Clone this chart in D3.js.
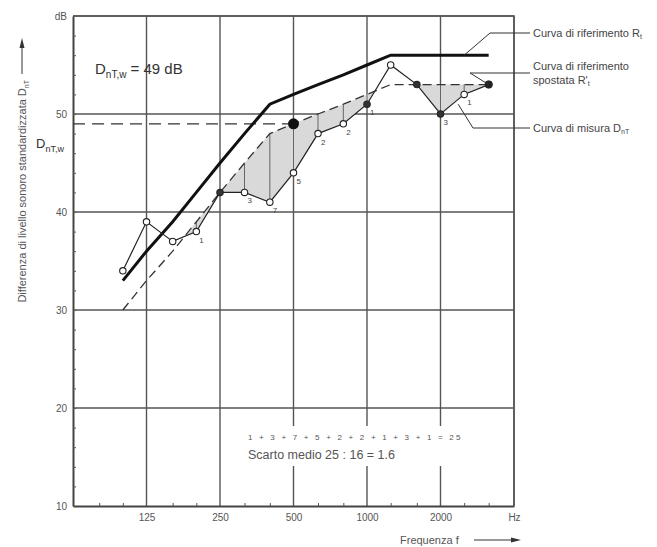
<!DOCTYPE html>
<html>
<head>
<meta charset="utf-8">
<script src="https://cdn.jsdelivr.net/npm/d3@7"></script>
<style>
  body { margin: 0; background: #fff; }
  svg { font-family: "Liberation Sans", Arial, sans-serif; }
</style>
</head>
<body>
<div id="chart"></div>
<script>
// third-octave bands and curves (dB)
var freqs = [100, 125, 160, 200, 250, 315, 400, 500, 630, 800, 1000, 1250, 1600, 2000, 2500, 3150];
var refCurve = [33, 36, 39, 42, 45, 48, 51, 52, 53, 54, 55, 56, 56, 56, 56, 56];
var shiftedCurve = [30, 33, 36, 39, 42, 45, 48, 49, 50, 51, 52, 53, 53, 53, 53, 53];
var measured = [34, 39, 37, 38, 42, 42, 41, 44, 48, 49, 51, 55, 53, 50, 52, 53];
var markedFreqs = [250, 1000, 1600, 2000];
var weighted = 49;

var yTicks = [10, 20, 30, 40, 50, 60];
var xTicks = [125, 250, 500, 1000, 2000, 4000];
var xMinor = [80, 100, 160, 200, 315, 400, 630, 800, 1250, 1600, 2500, 3150];

var W = 657, H = 547;
var svg = d3.select("#chart").append("svg")
    .attr("width", W)
    .attr("height", H)

var x = d3.scaleLog().domain([62.5, 4000]).range([73, 514])
var y = d3.scaleLinear().domain([10, 60]).range([506, 16])

var grid = svg.append("g").attr("stroke", "#555").attr("stroke-width", 1.4)

// horizontal grid
grid.selectAll(".hg").data(yTicks.slice(1))
    .enter().append("line")
    .attr("x1", x(62.5)).attr("x2", x(4000))
    .attr("y1", function (d) { return y(d) }).attr("y2", function (d) { return y(d) })

// vertical grid
grid.selectAll(".vg").data(xTicks)
    .enter().append("line")
    .attr("x1", function (d) { return x(d) }).attr("x2", function (d) { return x(d) })
    .attr("y1", y(60)).attr("y2", y(10))

// white box for the formula text, breaks the grid lines
svg.append("rect")
    .attr("x", 246).attr("y", 426).attr("width", 210).attr("height", 40)
    .attr("fill", "#fff")

// axes
var yAxis = d3.axisLeft(y).tickValues(yTicks).tickSize(0).tickPadding(6)
    .tickFormat(function (d) { return d == 60 ? "dB" : d })
var gy = svg.append("g").attr("transform", "translate(" + x(62.5) + ",0)").call(yAxis)
gy.select(".domain").attr("stroke", "#444").attr("stroke-width", 2)
gy.selectAll("text").attr("fill", "#555").attr("font-size", 10)

var yMinor = d3.axisRight(y).tickValues(d3.range(12, 60, 2)).tickSize(3).tickFormat("")
var gym = svg.append("g").attr("transform", "translate(" + x(62.5) + ",0)").call(yMinor)
gym.select(".domain").remove()
gym.selectAll("line").attr("stroke", "#555")

var xAxis = d3.axisBottom(x).tickValues(xTicks).tickSize(0).tickPadding(8)
    .tickFormat(function (d) { return d == 4000 ? "Hz" : d })
var gx = svg.append("g").attr("transform", "translate(0," + y(10) + ")").call(xAxis)
gx.select(".domain").attr("stroke", "#444").attr("stroke-width", 2)
gx.selectAll("text").attr("fill", "#555").attr("font-size", 10)

var xm = d3.axisTop(x).tickValues(xMinor).tickSize(3).tickFormat("")
var gxm = svg.append("g").attr("transform", "translate(0," + y(10) + ")").call(xm)
gxm.select(".domain").remove()
gxm.selectAll("line").attr("stroke", "#555")

// border top / right
svg.append("path")
    .attr("d", "M" + x(62.5) + "," + y(60) + "H" + x(4000) + "V" + y(10))
    .attr("fill", "none").attr("stroke", "#555").attr("stroke-width", 1.6)

// shaded deficit region (with crossing points)
var pts = []
for (var i = 0; i < freqs.length; i++) {
    pts.push({ lf: Math.log(freqs[i]), s: shiftedCurve[i], m: measured[i] })
    if (i < freqs.length - 1) {
        var d0 = shiftedCurve[i] - measured[i], d1 = shiftedCurve[i + 1] - measured[i + 1]
        if (d0 * d1 < 0) {
            var t = d0 / (d0 - d1)
            var lf = Math.log(freqs[i]) + t * (Math.log(freqs[i + 1]) - Math.log(freqs[i]))
            var sv = shiftedCurve[i] + t * (shiftedCurve[i + 1] - shiftedCurve[i])
            pts.push({ lf: lf, s: sv, m: sv })
        }
    }
}
var area = d3.area()
    .x(function (d) { return x(Math.exp(d.lf)) })
    .y0(function (d) { return y(d.s) })
    .y1(function (d) { return y(Math.min(d.s, d.m)) })
svg.append("path").datum(pts)
    .attr("d", area)
    .attr("fill", "#d9d9d9")

// vertical deficit lines
var deficits = freqs.map(function (f, i) { return { f: f, s: shiftedCurve[i], m: measured[i], d: Math.max(0, shiftedCurve[i] - measured[i]) } })
svg.selectAll(".dl").data(deficits.filter(function (d) { return d.d > 0 }))
    .enter().append("line")
    .attr("x1", function (d) { return x(d.f) }).attr("x2", function (d) { return x(d.f) })
    .attr("y1", function (d) { return y(d.s) }).attr("y2", function (d) { return y(d.m) })
    .attr("stroke", "#666").attr("stroke-width", 1)

// horizontal dashed line at D_nT,w
svg.append("line")
    .attr("x1", x(62.5)).attr("x2", x(500))
    .attr("y1", y(weighted)).attr("y2", y(weighted))
    .attr("stroke", "#333").attr("stroke-width", 1.2).attr("stroke-dasharray", "12,7")

var line = d3.line()
    .x(function (d) { return x(d[0]) })
    .y(function (d) { return y(d[1]) })

// shifted reference curve
svg.append("path").datum(d3.zip(freqs, shiftedCurve))
    .attr("d", line).attr("fill", "none")
    .attr("stroke", "#333").attr("stroke-width", 1.3).attr("stroke-dasharray", "9,5")

// reference curve
svg.append("path").datum(d3.zip(freqs, refCurve))
    .attr("d", line).attr("fill", "none")
    .attr("stroke", "#111").attr("stroke-width", 3)

// measured curve
svg.append("path").datum(d3.zip(freqs, measured))
    .attr("d", line).attr("fill", "none")
    .attr("stroke", "#222").attr("stroke-width", 1.2)

svg.selectAll(".pt").data(d3.zip(freqs, measured))
    .enter().append("circle")
    .attr("cx", function (d) { return x(d[0]) })
    .attr("cy", function (d) { return y(d[1]) })
    .attr("r", 3.2)
    .attr("fill", function (d) { return markedFreqs.indexOf(d[0]) >= 0 ? "#333" : "#fff" })
    .attr("stroke", "#222").attr("stroke-width", 1.1)

// big dot at 500 Hz on the shifted curve
svg.append("circle")
    .attr("cx", x(500)).attr("cy", y(shiftedCurve[freqs.indexOf(500)]))
    .attr("r", 5.5).attr("fill", "#111")
// dot at end of shifted curve
svg.append("circle")
    .attr("cx", x(3150)).attr("cy", y(shiftedCurve[freqs.length - 1]))
    .attr("r", 4).attr("fill", "#222")

// deficit labels
svg.selectAll(".dlab").data(deficits.filter(function (d) { return d.d > 0 }))
    .enter().append("text")
    .attr("x", function (d) { return x(d.f) + 3 })
    .attr("y", function (d) { return y(d.m) + 11 })
    .attr("font-size", 8).attr("fill", "#444")
    .text(function (d) { return d.d })

// title inside plot
var t1 = svg.append("text").attr("x", 95).attr("y", 74).attr("font-size", 15).attr("fill", "#333")
t1.append("tspan").text("D")
t1.append("tspan").attr("font-size", 10).attr("dy", 4).text("nT,w")
t1.append("tspan").attr("dy", -4).text(" = " + weighted + " dB")

// D_nT,w label at left
var t2 = svg.append("text").attr("x", 36).attr("y", 148).attr("font-size", 13).attr("fill", "#333")
t2.append("tspan").text("D")
t2.append("tspan").attr("font-size", 9).attr("dy", 4).text("nT,w")

// y title
var yt = svg.append("text")
    .attr("transform", "translate(26,80) rotate(-90)")
    .attr("text-anchor", "end").attr("font-size", 11).attr("fill", "#555")
yt.append("tspan").text("Differenza di livello sonoro standardizzata D")
yt.append("tspan").attr("font-size", 7).attr("dy", 3).text("nT")
svg.append("line").attr("x1", 22).attr("x2", 22).attr("y1", 74).attr("y2", 42)
    .attr("stroke", "#333").attr("stroke-width", 1)
svg.append("path").attr("d", "M19.5,48 L22,38 L24.5,48 Z").attr("fill", "#333")

// x title
svg.append("text").attr("x", 400).attr("y", 544).attr("font-size", 11).attr("fill", "#555")
    .text("Frequenza f")
svg.append("line").attr("x1", 474).attr("x2", 515).attr("y1", 540).attr("y2", 540)
    .attr("stroke", "#333").attr("stroke-width", 1)
svg.append("path").attr("d", "M511,537.5 L521,540 L511,542.5 Z").attr("fill", "#333")

// formula
var defs = deficits.filter(function (d) { return d.d > 0 }).map(function (d) { return d.d })
var total = d3.sum(defs)
svg.append("text").attr("x", 248).attr("y", 440).attr("font-size", 8).attr("fill", "#555")
    .attr("letter-spacing", 2.2)
    .text(defs.join(" + ") + " = " + total)
svg.append("text").attr("x", 248).attr("y", 459).attr("font-size", 12.5).attr("fill", "#555")
    .text("Scarto medio " + total + " : " + freqs.length + " = " + (total / freqs.length).toFixed(1))

// legend leaders
var leaders = [
    { pts: [[x(2500), y(56)], [490, 33], [530, 33]], ty: 37, lines: [["Curva di riferimento R", "t"]] },
    { pts: [[x(3150), y(53)], [470, 73], [530, 73]], ty: 70, lines: [["Curva di riferimento", ""], ["spostata R'", "t"]] },
    { pts: [[x(2500) - 6, y(51)], [473, 128], [530, 128]], ty: 132, lines: [["Curva di misura D", "nT"]] }
]
leaders.forEach(function (l) {
    svg.append("path").attr("d", d3.line()(l.pts))
        .attr("fill", "none").attr("stroke", "#333").attr("stroke-width", 1)
    l.lines.forEach(function (ln, k) {
        var t = svg.append("text").attr("x", 533).attr("y", l.ty + k * 14)
            .attr("font-size", 11).attr("fill", "#444").attr("textLength", null)
        t.append("tspan").text(ln[0])
        if (ln[1]) t.append("tspan").attr("font-size", 7).attr("dy", 2).text(ln[1])
    })
})
</script>
</body>
</html>
